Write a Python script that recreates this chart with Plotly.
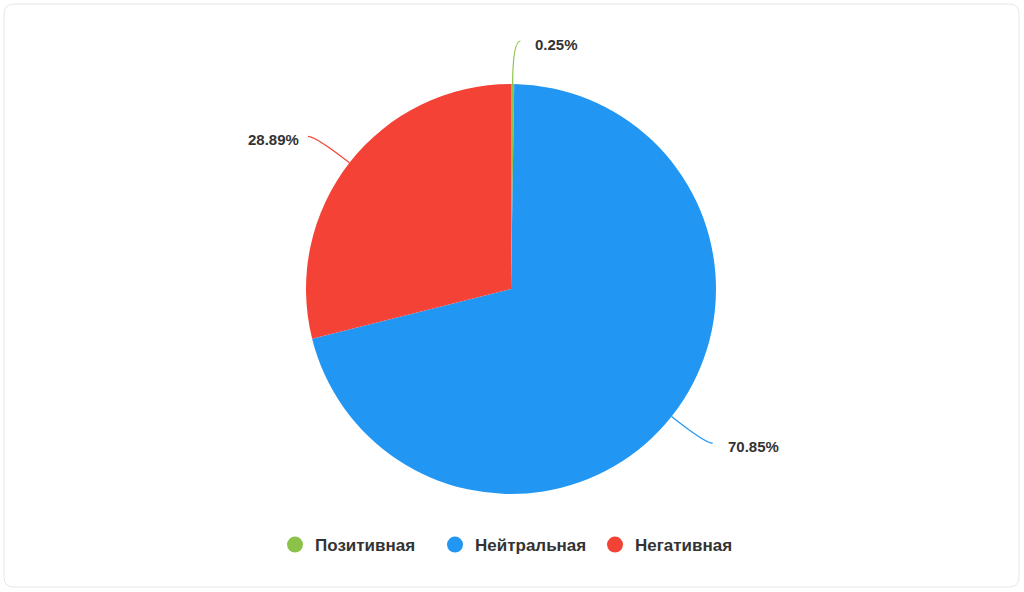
import math
import plotly.graph_objects as go

# ---- data ----
labels = ["Позитивная", "Нейтральная", "Негативная"]
values = [0.25, 70.85, 28.89]
colors = ["#8BC34A", "#2196F3", "#F44336"]

# ---- layout constants (pixels) ----
W, H = 1024, 592
CX, CY, R = 511, 289, 205
R_LABEL = 248
HOOK = 7.5
FONT = "Liberation Sans, Arial, Helvetica, sans-serif"
TXT = "#333333"


def px(x):
    return x / W


def py(y):
    return 1 - y / H


fig = go.Figure()

fig.add_trace(go.Pie(
    labels=labels,
    values=values,
    marker=dict(colors=colors, line=dict(width=0)),
    sort=False,
    direction="clockwise",
    textinfo="none",
    showlegend=False,
    hovertemplate="%{label}: %{value}%<extra></extra>",
    domain=dict(x=[px(CX - R), px(CX + R)], y=[py(CY + R), py(CY - R)]),
))

# legend entries with circle markers
for lab, col in zip(labels, colors):
    fig.add_trace(go.Scatter(
        x=[None], y=[None], mode="markers", name=lab,
        marker=dict(size=16, color=col, symbol="circle"),
        hoverinfo="skip",
    ))

# card background
x0, y0, x1, y1, rr = 4, 4, 1019, 587, 10
card = (
    f"M {px(x0 + rr)} {py(y0)} L {px(x1 - rr)} {py(y0)} "
    f"Q {px(x1)} {py(y0)} {px(x1)} {py(y0 + rr)} L {px(x1)} {py(y1 - rr)} "
    f"Q {px(x1)} {py(y1)} {px(x1 - rr)} {py(y1)} L {px(x0 + rr)} {py(y1)} "
    f"Q {px(x0)} {py(y1)} {px(x0)} {py(y1 - rr)} L {px(x0)} {py(y0 + rr)} "
    f"Q {px(x0)} {py(y0)} {px(x0 + rr)} {py(y0)} Z"
)
shapes = [dict(type="path", path=card, xref="paper", yref="paper",
               line=dict(color="#E6E6E6", width=1), fillcolor="white", layer="below")]
annotations = []

total = sum(values)
cum = 0.0
for lab, v, col in zip(labels, values, colors):
    mid = (cum + v / 2) / total * 2 * math.pi
    cum += v
    s, c = math.sin(mid), math.cos(mid)
    side = 1 if s >= 0 else -1
    ex, ey = CX + R * s, CY - R * c
    kx, ky = CX + R_LABEL * s, CY - R_LABEL * c
    tx, ty = kx + side * HOOK, ky
    path = f"M {px(ex)} {py(ey)} Q {px(kx)} {py(ky)} {px(tx)} {py(ty)}"
    shapes.append(dict(type="path", path=path, xref="paper", yref="paper",
                       line=dict(color=col, width=1.2)))
    lx = tx + (13 if side > 0 else -7)
    annotations.append(dict(
        x=px(lx), y=py(ty + 3), xref="paper", yref="paper",
        text=f"{v:.2f}%", showarrow=False,
        xanchor="left" if side > 0 else "right", yanchor="middle",
        font=dict(family=FONT, size=15, color=TXT, weight=700),
    ))

fig.update_layout(
    width=W, height=H,
    margin=dict(l=0, r=0, t=0, b=0),
    paper_bgcolor="white",
    plot_bgcolor="rgba(0,0,0,0)",
    xaxis=dict(visible=False),
    yaxis=dict(visible=False),
    shapes=shapes,
    annotations=annotations,
    legend=dict(
        orientation="h", x=0.5 + 3 / W, xanchor="center", y=py(545), yanchor="middle",
        font=dict(family=FONT, size=17, color=TXT, weight=700),
        entrywidth=115, entrywidthmode="pixels",
        itemclick=False, itemdoubleclick=False,
    ),
)

fig.write_html("out.html", config={"displayModeBar": False},
               post_script="document.body.style.margin='0px';")
